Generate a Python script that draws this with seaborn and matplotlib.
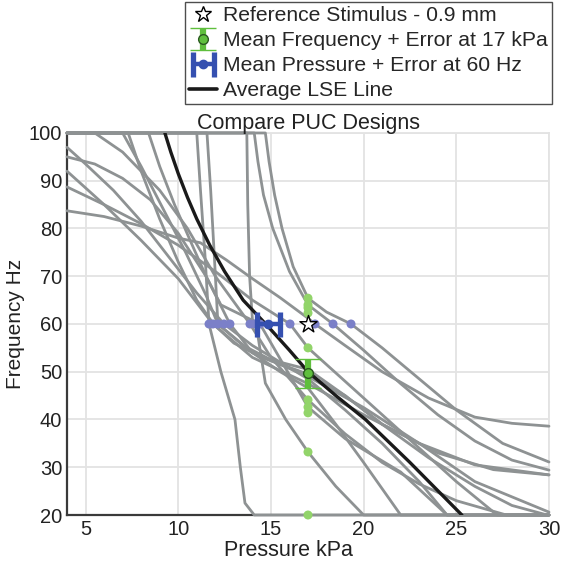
import matplotlib
matplotlib.use("Agg")
import matplotlib.pyplot as plt
import seaborn as sns
import pandas as pd
from matplotlib.lines import Line2D

# ---------------- data ----------------
gray_curves_p = [
    [4, 11.0, 11.2, 11.45, 11.66, 12.3, 13.06, 13.35, 13.6, 14.1, 30],
    [4, 11.55, 11.75, 11.95, 12.14, 13.5, 15.0, 17.0, 19.0, 21.0, 23.5, 26.0, 28.0, 29.9, 30],
    [4, 13.7, 13.75, 13.85, 14.0, 14.25, 14.7, 15.8, 17.0, 18.5, 20.0, 30],
    [4, 14.7, 14.9, 15.2, 15.6, 16.2, 17.0, 18.0, 19.32, 21.0, 23.0, 25.0, 27.5, 30],
    [4, 14.1, 14.3, 14.6, 15.1, 16.0, 17.0, 18.35, 20.0, 22.0, 24.0, 26.0, 28.0, 30],
    [4, 5, 6.5, 8, 9.5, 11, 12.47, 14, 15.5, 17, 19, 21, 23, 24.5, 30],
    [4, 5.5, 7, 8.5, 10, 11.5, 12.79, 14, 15.5, 17, 18.5, 20, 22, 30],
    [4, 6, 8, 10, 11.87, 14, 17, 20, 23, 26, 30],
    [4, 6, 8, 10, 12, 14, 16.03, 17, 19, 21, 23, 25, 27.2, 30],
    [4, 6, 8, 10, 11.2, 12.6, 14, 15.5, 17.0, 17.38, 19, 21, 23.5, 26, 28, 30],
    [4, 5.5, 7, 9, 10.5, 12.0, 13.87, 15, 17, 19, 21, 23, 25, 27.7, 30],
    [4, 7.0, 8.0, 9.2, 10.4, 11.5, 12.14, 14, 17, 20, 23, 26, 30],
    [4, 7.3, 8.0, 9.0, 10.0, 11.0, 11.9, 13, 14.5, 17, 19, 21, 24, 27, 30],
    [4, 8.4, 9.0, 9.8, 10.7, 11.5, 12.3, 14.41, 17, 19, 22, 24.5, 30],
]
gray_curves_f = [
    [100, 100, 88, 74, 60, 50, 40, 30, 22.5, 20, 20],
    [100, 100, 88, 74, 60, 55.5, 52.5, 50.5, 45, 39, 32, 26, 22, 20, 20],
    [100, 100, 85, 70, 61, 58.7, 47.6, 40, 33.2, 26, 20, 20],
    [100, 100, 94, 87, 80, 72, 65.4, 62.5, 60, 55, 48.5, 42, 35, 31.1],
    [100, 100, 94, 87, 80, 71, 64.0, 60, 54.5, 47.5, 41, 35.5, 31.5, 29.4],
    [97, 93.5, 88, 81.5, 74, 66.5, 60, 55.5, 52, 48.5, 42, 35, 27, 20, 20],
    [95, 93.5, 90.5, 86, 79, 70, 60, 54, 50, 46.6, 39, 31, 20, 20],
    [92, 85, 77.5, 69.5, 60, 53, 47.5, 41, 35, 30.5, 28.4],
    [88.7, 85, 81, 76.5, 71, 65, 60, 55, 48, 41, 34, 27, 20, 20],
    [83.7, 82.5, 80.5, 78, 77, 73.4, 69.5, 65.5, 61.2, 60, 55.5, 50, 44.5, 40.5, 39.2, 38.6],
    [100, 100, 96, 88, 80, 70, 60, 53, 44.1, 37, 31, 26.5, 23, 20, 20],
    [100, 100, 93, 84, 75, 66, 60, 54, 49, 42.5, 35, 27, 20.6],
    [100, 100, 92, 82, 73, 65, 60, 56, 53, 49.5, 45, 39, 33, 29.5, 28.4],
    [100, 100, 93, 85, 77, 70, 64, 60, 42.6, 36, 29, 20, 20],
]

lse_p = [9.28, 9.6, 10.0, 10.5, 11.0, 11.7, 12.5, 13.5, 14.84, 16.0, 17.0, 18.5, 20.1, 22.5, 25.3]
lse_f = [100, 96, 91.5, 86.5, 82, 76.5, 71, 65, 59.5, 54.5, 50, 45, 40, 31, 20]

blue_p = [11.66, 11.87, 12.14, 12.47, 12.79, 13.87, 14.14, 14.41, 16.03, 17.38, 18.35, 19.32]
blue_f = [60] * len(blue_p)
green_p = [17] * 10
green_f = [65.4, 64.0, 63.4, 62.3, 55.0, 44.1, 42.6, 41.4, 33.2, 20.0]

mean_pressure, mean_pressure_err = 14.86, 0.61
mean_freq, mean_freq_err = 49.7, 3.05
ref_p, ref_f = 17, 60

x_ticks = [5, 10, 15, 20, 25, 30]
y_ticks = [20, 30, 40, 50, 60, 70, 80, 90, 100]

# ---------------- style ----------------
sns.set_style("white")
plt.rcParams["font.family"] = ["Liberation Sans", "DejaVu Sans"]

fig = plt.figure(figsize=(5.64, 5.69), dpi=100)
ax = fig.add_axes([0.1188, 0.0949, 0.8546, 0.6714])

rows = []
for i, (ps, fs) in enumerate(zip(gray_curves_p, gray_curves_f)):
    for p, f in zip(ps, fs):
        rows.append({"curve": i, "p": p, "f": f})
gray_df = pd.DataFrame(rows)

GRAY = "#8e9293"
sns.lineplot(data=gray_df, x="p", y="f", units="curve", estimator=None,
             color=GRAY, lw=2.0, ax=ax, sort=False, zorder=2)
for ln in ax.get_lines():
    ln.set_clip_on(False)
    ln.set_solid_joinstyle("round")

lse_df = pd.DataFrame({"p": lse_p, "f": lse_f})
sns.lineplot(data=lse_df, x="p", y="f", color="#1a1a1a", lw=2.4, ax=ax,
             sort=False, zorder=3)
ax.get_lines()[-1].set_solid_joinstyle("round")

BLUE_L = "#7b80c8"
BLUE_D = "#3550b0"
GREEN_L = "#92d46a"
GREEN_D = "#5fbf3d"

sns.scatterplot(x=blue_p, y=blue_f, color=BLUE_L, s=42, edgecolor="none",
                ax=ax, zorder=4)
sns.scatterplot(x=green_p, y=green_f, color=GREEN_L, s=42, edgecolor="none",
                ax=ax, zorder=4, clip_on=False)

eb_blue = ax.errorbar([mean_pressure], [ref_f], xerr=[mean_pressure_err],
                      fmt="o", color=BLUE_D, ms=6, elinewidth=3.2,
                      capsize=9, capthick=3.8, zorder=6)
eb_green = ax.errorbar([ref_p], [mean_freq], yerr=[mean_freq_err],
                       fmt="o", color=GREEN_D, mec="#2a5a20", mew=1.0, ms=7,
                       elinewidth=4.5, capsize=9.5, capthick=4.0, zorder=6)
ax.scatter([ref_p], [ref_f], marker="*", s=170, facecolor="white",
           edgecolor="black", linewidth=1.0, zorder=7)

ax.set_xlim(4, 30)
ax.set_ylim(20, 100)
ax.set_xticks(x_ticks)
ax.set_yticks(y_ticks)
ax.grid(True, color="#e3e3e3", lw=1.3)
ax.set_axisbelow(True)
for s in ["left", "bottom"]:
    ax.spines[s].set_color("#3a3a3a")
    ax.spines[s].set_linewidth(1.6)
    ax.spines[s].set_zorder(1)
for s in ["top", "right"]:
    ax.spines[s].set_color("#e3e3e3")
    ax.spines[s].set_linewidth(1.3)
    ax.spines[s].set_zorder(1)
ax.tick_params(axis="both", labelsize=14.5, colors="#222222", direction="in",
               length=5, width=1.2)
ax.set_xlabel("Pressure kPa", fontsize=15.5, color="#222222", labelpad=2)
ax.set_ylabel("Frequency Hz", fontsize=15.0, color="#222222", labelpad=3)
ax.xaxis.set_label_coords(0.46, -0.065)
ax.set_title("Compare PUC Designs", fontsize=15.5, color="#222222", pad=3)

star_handle = Line2D([], [], marker="*", ls="none", mfc="white", mec="black",
                     ms=12, mew=1.0)
lse_handle = Line2D([], [], color="#1a1a1a", lw=2.6)
leg = fig.legend([star_handle, eb_green, eb_blue, lse_handle],
                 ["Reference Stimulus - 0.9 mm",
                  "Mean Frequency + Error at 17 kPa",
                  "Mean Pressure + Error at 60 Hz",
                  "Average LSE Line"],
                 loc="upper right", bbox_to_anchor=(0.979, 0.996),
                 fontsize=15.2, frameon=True, fancybox=False, edgecolor="#222222",
                 borderpad=0.2, handlelength=1.3, handletextpad=0.3,
                 labelspacing=0.28, borderaxespad=0.0)
leg.get_frame().set_linewidth(1.0)

fig.savefig("out.png", dpi=100)
